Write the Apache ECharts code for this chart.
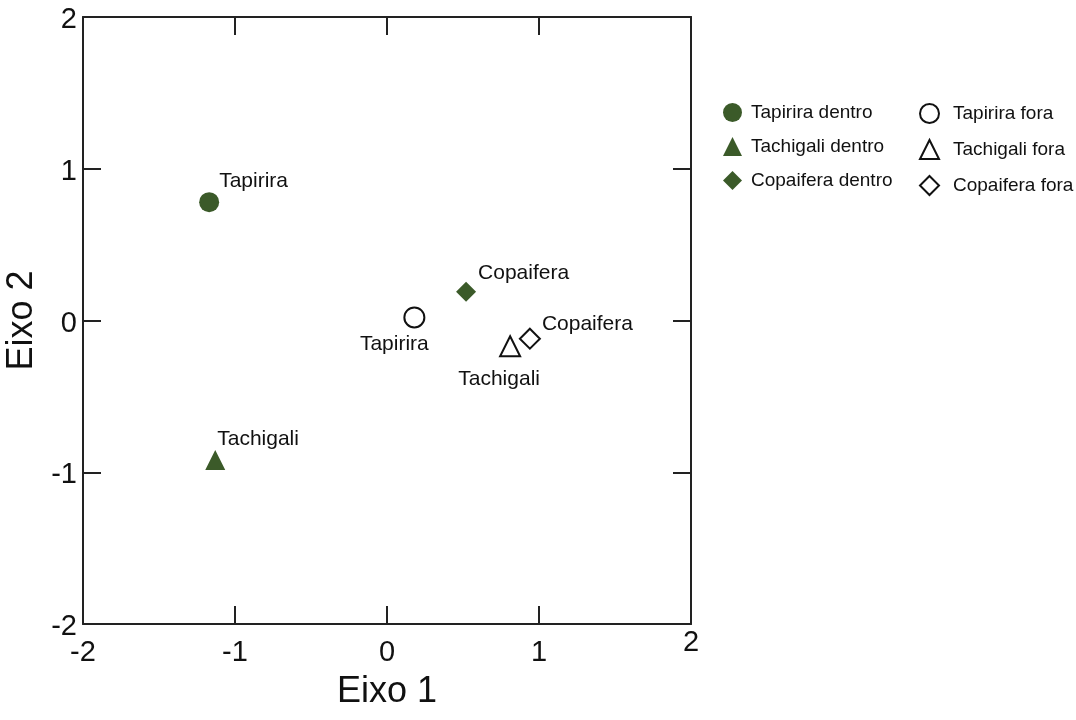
<!DOCTYPE html>
<html>
<head>
<meta charset="utf-8">
<script src="https://cdn.jsdelivr.net/npm/echarts@6/dist/echarts.min.js"></script>
<style>html,body{margin:0;padding:0;background:#fff;}#c{width:1076px;height:720px;}</style>
</head>
<body>
<div id="c"></div>
<script>
// Data
const seriesNames = ['Tapirira dentro','Tachigali dentro','Copaifera dentro','Tapirira fora','Tachigali fora','Copaifera fora'];
const pointLabels = ['Tapirira','Tachigali','Copaifera','Tapirira','Tachigali','Copaifera'];
const eixo1 = [-1.17, -1.13, 0.52, 0.18, 0.81, 0.94];
const eixo2 = [0.78, -0.92, 0.19, 0.02, -0.17, -0.12];
const axisTicks = [-2, -1, 0, 1, 2];

const green = '#3b5a29';
const symbols = ['circle','triangle','diamond','circle','triangle','diamond'];
const filled = [true,true,true,false,false,false];
const labelCfg = [
  {align:'left', offset:[10,-21]},
  {align:'left', offset:[2,-21]},
  {align:'left', offset:[12,-18]},
  {align:'center', offset:[-20,27]},
  {align:'center', offset:[-11,33]},
  {align:'left', offset:[12,-15]}
];

const FONT = 'Liberation Sans, Arial, sans-serif';
const lineColor = '#222';

const series = seriesNames.map((name, i) => ({
  name: name,
  type: 'scatter',
  xAxisIndex: 0,
  yAxisIndex: 0,
  symbol: symbols[i],
  symbolSize: 20,
  itemStyle: filled[i] ? {color: green, borderColor: green, borderWidth: 0, opacity: 1}
                       : {color: '#ffffff', borderColor: '#111', borderWidth: 2, opacity: 1},
  label: {
    show: true,
    position: 'inside',
    align: labelCfg[i].align,
    verticalAlign: 'middle',
    offset: labelCfg[i].offset,
    formatter: () => pointLabels[i],
    color: '#111',
    fontSize: 21,
    fontFamily: FONT
  },
  emphasis: {disabled: true},
  data: [[eixo1[i], eixo2[i]]]
}));

const axisLineStyle = {show: true, onZero: false, lineStyle: {color: lineColor, width: 2}};
const tickStyle = {show: true, inside: true, length: 18, lineStyle: {color: lineColor, width: 2}};

const chart = echarts.init(document.getElementById('c'), null, {renderer: 'canvas'});
chart.setOption({
  animation: false,
  backgroundColor: '#ffffff',
  grid: {left: 83, top: 17, width: 608, height: 607, containLabel: false, outerBoundsMode: 'none'},
  legend: [
    {
      data: seriesNames.slice(0,3), orient: 'vertical', left: 718, top: 98,
      itemWidth: 19, itemHeight: 19, itemGap: 15,
      textStyle: {fontSize: 19, fontFamily: FONT, color: '#111', padding: [0,0,0,4]},
      selectedMode: false
    },
    {
      data: seriesNames.slice(3), orient: 'vertical', left: 914, top: 98,
      itemWidth: 19, itemHeight: 19, itemGap: 15,
      textStyle: {fontSize: 19, fontFamily: FONT, color: '#111', padding: [0,0,0,9]},
      selectedMode: false
    }
  ],
  xAxis: [
    {
      type: 'value', min: -2, max: 2, interval: 1, position: 'bottom',
      name: 'Eixo 1', nameLocation: 'middle', nameGap: 50,
      nameTextStyle: {fontSize: 36, fontFamily: FONT, color: '#111'},
      axisLine: axisLineStyle, axisTick: tickStyle, splitLine: {show: false},
      axisLabel: {
        margin: 4, fontSize: 29, fontFamily: FONT, color: '#111',
        formatter: v => (v === 2 ? '{e|' + v + '}' : '{n|' + v + '}'),
        rich: {
          n: {fontSize: 29, fontFamily: FONT, color: '#111', padding: [10,0,0,0]},
          e: {fontSize: 29, fontFamily: FONT, color: '#111', padding: [0,0,0,0]}
        }
      }
    },
    {
      type: 'value', min: -2, max: 2, interval: 1, position: 'top',
      axisLine: axisLineStyle, axisTick: tickStyle, axisLabel: {show: false}, splitLine: {show: false}
    }
  ],
  yAxis: [
    {
      type: 'value', min: -2, max: 2, interval: 1, position: 'left',
      name: 'Eixo 2', nameLocation: 'middle', nameGap: 41, nameRotate: 90,
      nameTextStyle: {fontSize: 36, fontFamily: FONT, color: '#111'},
      axisLine: axisLineStyle, axisTick: tickStyle, splitLine: {show: false},
      axisLabel: {
        margin: 6, fontSize: 29, fontFamily: FONT, color: '#111',
        formatter: v => '{n|' + v + '}',
        rich: {n: {fontSize: 29, fontFamily: FONT, color: '#111', padding: [6,0,0,0]}}
      }
    },
    {
      type: 'value', min: -2, max: 2, interval: 1, position: 'right',
      axisLine: axisLineStyle, axisTick: tickStyle, axisLabel: {show: false}, splitLine: {show: false}
    }
  ],
  series: series
});
</script>
</body>
</html>
